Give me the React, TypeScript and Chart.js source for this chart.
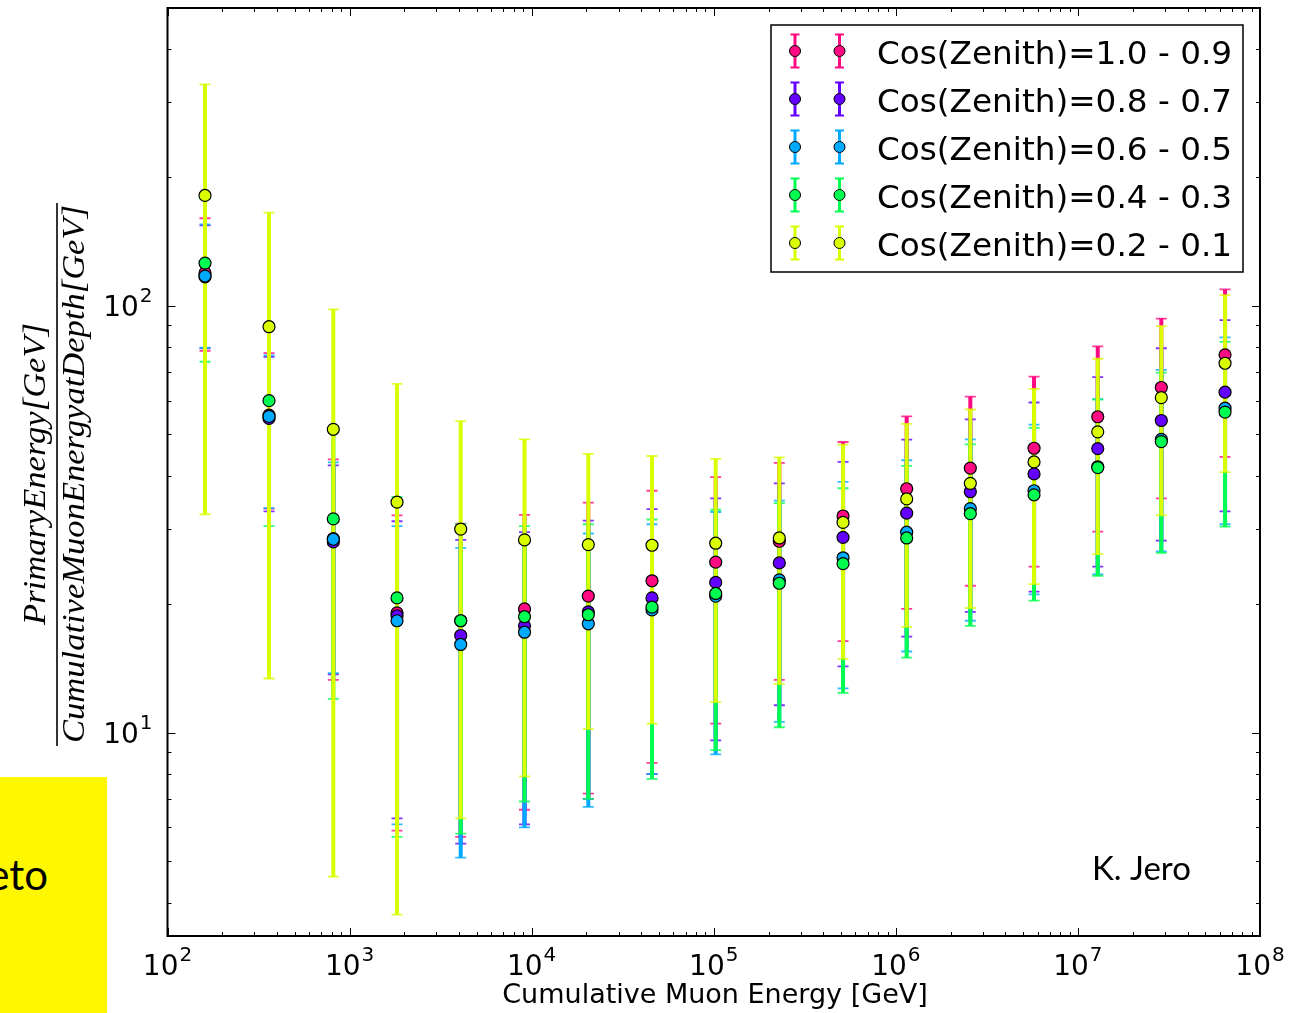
import React, { useEffect, useRef } from "react";
import { Chart, registerables } from "chart.js";

Chart.register(...registerables);

// Cumulative muon energy bin centres [GeV]
const energies = [160.7, 361, 814, 1822, 4077, 9135, 20470, 45810, 102500, 229100, 512900, 1147000, 2565000, 5741000, 12850000, 28710000, 64270000];

const seriesLabels = [
  "Cos(Zenith)=1.0 - 0.9",
  "Cos(Zenith)=0.8 - 0.7",
  "Cos(Zenith)=0.6 - 0.5",
  "Cos(Zenith)=0.4 - 0.3",
  "Cos(Zenith)=0.2 - 0.1",
];
const seriesColors = ["#FF0A82", "#6400FF", "#00AAFF", "#00FF50", "#D9FF00"];

const cz10to09 = [119.5, 55.5, 28.5, 19.1, 18.3, 19.5, 20.9, 22.7, 25.1, 28.1, 32.2, 37.3, 41.7, 46.4, 55.0, 64.4, 76.8];
const cz10to09Err = [41, 22, 15.2, 13.2, 12.6, 12.9, 13.7, 14.2, 14.6, 14.8, 15.8, 17.8, 19.6, 21.9, 25.4, 29.0, 32.5];

const cz08to07 = [117, 54.5, 28.0, 18.8, 16.9, 17.8, 19.2, 20.7, 22.5, 25.0, 28.7, 32.7, 36.7, 40.4, 46.3, 53.9, 62.8];
const cz08to07Err = [37.5, 21.5, 14.3, 12.5, 11.4, 11.7, 12.2, 12.7, 12.9, 13.4, 14.4, 15.9, 17.5, 19.0, 21.8, 25.7, 29.8];

const cz06to05 = [117.5, 55.1, 28.4, 18.3, 16.1, 17.2, 18.0, 19.4, 20.9, 22.8, 25.7, 29.5, 33.5, 36.9, 42.0, 48.7, 57.6];
const cz06to05Err = [37.7, 21.5, 14.6, 12.2, 11.0, 11.2, 11.3, 11.4, 12.0, 12.2, 13.0, 14.0, 15.2, 15.8, 18.5, 22.1, 26.8];

const cz04to03 = [126, 60.0, 31.7, 20.7, 18.3, 18.7, 18.9, 19.7, 21.2, 22.4, 24.9, 28.6, 32.6, 36.1, 41.8, 48.1, 56.4];
const cz04to03Err = [52, 29.5, 19.7, 15.0, 12.5, 11.8, 11.9, 11.9, 12.1, 12.1, 12.5, 13.6, 14.8, 15.7, 18.5, 21.7, 26.0];

const cz02to01 = [181.5, 89.4, 51.4, 34.7, 30.0, 28.3, 27.6, 27.5, 27.8, 28.6, 31.1, 35.3, 38.4, 43.1, 50.7, 61.0, 73.4];
const cz02to01Err = [149, 76, 46.8, 30.95, 23.7, 20.4, 17.4, 17.0, 16.0, 15.6, 16.2, 17.6, 18.8, 20.8, 24.5, 28.7, 32.6];

const seriesValues = [cz10to09, cz08to07, cz06to05, cz04to03, cz02to01];
const seriesErrors = [cz10to09Err, cz08to07Err, cz06to05Err, cz04to03Err, cz02to01Err];

const xTickExponents = [2, 3, 4, 5, 6, 7, 8];
const yTickExponents = [1, 2];
const xMin = 100;
const xMax = 1e8;
const yMin = 3.34;
const yMax = 499;

const xTitle = "Cumulative Muon Energy [GeV]";
const yNumerator = "PrimaryEnergy[GeV]";
const yDenominator = "CumulativeMuonEnergyatDepth[GeV]";
const creditText = "K. Jero";
const boxText = "eto";

const SANS = '"DejaVu Sans", sans-serif';

const decorPlugin = {
  id: "decor",
  beforeDatasetsDraw(chart: any) {
    const ctx = chart.ctx;
    const xs = chart.scales.x;
    const ys = chart.scales.y;
    const a = chart.chartArea;
    ctx.save();
    ctx.beginPath();
    ctx.rect(a.left, a.top, a.right - a.left, a.bottom - a.top);
    ctx.clip();
    seriesValues.forEach((vals, s) => {
      const errs = seriesErrors[s];
      const color = seriesColors[s];
      vals.forEach((v, i) => {
        const x = xs.getPixelForValue(energies[i]);
        const lo = v - errs[i];
        const yT = ys.getPixelForValue(v + errs[i]);
        const yB = lo > 0 ? ys.getPixelForValue(lo) : a.bottom + 10;
        ctx.strokeStyle = color;
        ctx.globalAlpha = 1;
        ctx.lineWidth = 4;
        ctx.beginPath();
        ctx.moveTo(x, yT);
        ctx.lineTo(x, yB);
        ctx.stroke();
        ctx.lineWidth = 1.8;
        ctx.globalAlpha = 0.8;
        ctx.beginPath();
        ctx.moveTo(x - 5.5, yT);
        ctx.lineTo(x + 5.5, yT);
        if (lo > 0) {
          ctx.moveTo(x - 5.5, yB);
          ctx.lineTo(x + 5.5, yB);
        }
        ctx.stroke();
      });
    });
    ctx.restore();
  },
  afterDraw(chart: any) {
    const ctx = chart.ctx;
    const xs = chart.scales.x;
    const ys = chart.scales.y;
    const a = chart.chartArea;
    ctx.save();

    // ticks (inward, all four sides)
    ctx.strokeStyle = "#000";
    ctx.lineWidth = 1;
    const tickX = (v: number, len: number) => {
      const x = Math.round(xs.getPixelForValue(v)) + 0.5;
      ctx.beginPath();
      ctx.moveTo(x, a.bottom);
      ctx.lineTo(x, a.bottom - len);
      ctx.moveTo(x, a.top);
      ctx.lineTo(x, a.top + len);
      ctx.stroke();
    };
    const tickY = (v: number, len: number) => {
      const y = Math.round(ys.getPixelForValue(v)) + 0.5;
      ctx.beginPath();
      ctx.moveTo(a.left, y);
      ctx.lineTo(a.left + len, y);
      ctx.moveTo(a.right, y);
      ctx.lineTo(a.right - len, y);
      ctx.stroke();
    };
    for (let e = 2; e <= 8; e++) {
      tickX(Math.pow(10, e), 8);
      if (e < 8) for (let m = 2; m <= 9; m++) tickX(m * Math.pow(10, e), 4);
    }
    for (let e = 0; e <= 3; e++) {
      const p = Math.pow(10, e);
      if (p >= yMin && p <= yMax) tickY(p, 8);
      for (let m = 2; m <= 9; m++) {
        const v = m * p;
        if (v >= yMin && v <= yMax) tickY(v, 4);
      }
    }

    // frame
    ctx.lineWidth = 2;
    ctx.strokeRect(a.left, a.top, a.right - a.left, a.bottom - a.top);

    // tick labels
    ctx.fillStyle = "#000";
    ctx.textBaseline = "alphabetic";
    const drawPow = (xCenterOrRight: number, baseY: number, exp: number, align: "center" | "right") => {
      ctx.font = `28px ${SANS}`;
      const wb = ctx.measureText("10").width;
      ctx.font = `20px ${SANS}`;
      const we = ctx.measureText(String(exp)).width;
      const total = wb + we + 1;
      const start = align === "center" ? xCenterOrRight - total / 2 : xCenterOrRight - total;
      ctx.textAlign = "left";
      ctx.font = `28px ${SANS}`;
      ctx.fillText("10", start, baseY);
      ctx.font = `20px ${SANS}`;
      ctx.fillText(String(exp), start + wb + 1, baseY - 14);
    };
    xTickExponents.forEach((e) => {
      drawPow(xs.getPixelForValue(Math.pow(10, e)), a.bottom + 39, e, "center");
    });
    yTickExponents.forEach((e) => {
      drawPow(a.left - 15, ys.getPixelForValue(Math.pow(10, e)) + 10, e, "right");
    });

    // x title
    ctx.font = `27px ${SANS}`;
    ctx.textAlign = "center";
    ctx.fillText(xTitle, 715, 1003);

    // y title (fraction)
    ctx.save();
    ctx.translate(57, 474);
    ctx.rotate(-Math.PI / 2);
    ctx.lineWidth = 1.6;
    ctx.beginPath();
    ctx.moveTo(-272, 0);
    ctx.lineTo(271, 0);
    ctx.stroke();
    ctx.font = 'italic 31px "Liberation Serif", serif';
    const wd = ctx.measureText(yDenominator).width;
    const sx = 538 / wd;
    ctx.scale(sx, 1);
    ctx.textAlign = "center";
    ctx.fillText(yNumerator, 0, -12);
    ctx.fillText(yDenominator, 0, 27);
    ctx.restore();

    // legend
    const lx = 771, ly = 25, lw = 472, lh = 247;
    ctx.fillStyle = "#fff";
    ctx.fillRect(lx, ly, lw, lh);
    ctx.strokeStyle = "#000";
    ctx.lineWidth = 1.5;
    ctx.strokeRect(lx, ly, lw, lh);
    seriesLabels.forEach((label, s) => {
      const rowY = 51 + 48 * s;
      [795, 839.5].forEach((sxp) => {
        ctx.strokeStyle = seriesColors[s];
        ctx.lineWidth = 3;
        ctx.beginPath();
        ctx.moveTo(sxp, rowY - 16.5);
        ctx.lineTo(sxp, rowY + 16.5);
        ctx.stroke();
        ctx.lineWidth = 2;
        ctx.beginPath();
        ctx.moveTo(sxp - 4.5, rowY - 16.5);
        ctx.lineTo(sxp + 4.5, rowY - 16.5);
        ctx.moveTo(sxp - 4.5, rowY + 16.5);
        ctx.lineTo(sxp + 4.5, rowY + 16.5);
        ctx.stroke();
        ctx.beginPath();
        ctx.arc(sxp, rowY, 5.5, 0, Math.PI * 2);
        ctx.fillStyle = seriesColors[s];
        ctx.fill();
        ctx.strokeStyle = "#000";
        ctx.lineWidth = 1;
        ctx.stroke();
      });
      ctx.fillStyle = "#000";
      ctx.font = `32.7px ${SANS}`;
      ctx.textAlign = "left";
      ctx.fillText(label, 877, rowY + 13);
    });

    // credit
    ctx.font = '33px Lato, "Open Sans", sans-serif';
    ctx.textAlign = "left";
    ctx.fillStyle = "#000";
    ctx.fillText(creditText, 1092, 880);

    ctx.restore();
  },
};

export default function App() {
  const canvasRef = useRef<HTMLCanvasElement | null>(null);

  useEffect(() => {
    if (!canvasRef.current) return;
    const datasets = seriesValues.map((vals, s) => ({
      label: seriesLabels[s],
      data: vals.map((v, i) => ({ x: energies[i], y: v })),
      showLine: false,
      pointRadius: 6,
      pointHoverRadius: 6,
      pointBackgroundColor: seriesColors[s],
      pointBorderColor: "#000",
      pointBorderWidth: 1.2,
      order: seriesValues.length - 1 - s,
    }));
    const chart = new Chart(canvasRef.current, {
      type: "scatter",
      data: { datasets },
      options: {
        responsive: false,
        animation: false,
        devicePixelRatio: 1,
        layout: { padding: { left: 167.5, top: 8, right: 40, bottom: 77 } },
        scales: {
          x: { type: "logarithmic", min: xMin, max: xMax, display: false },
          y: { type: "logarithmic", min: yMin, max: yMax, display: false },
        },
        plugins: {
          legend: { display: false },
          tooltip: { enabled: false },
        },
        events: [],
      },
      plugins: [decorPlugin],
    } as any);
    return () => chart.destroy();
  }, []);

  return (
    <div style={{ position: "absolute", left: 0, top: 0, width: 1300, height: 1013, background: "#fff" }}>
      <canvas ref={canvasRef} width={1300} height={1013} style={{ display: "block", width: 1300, height: 1013 }} />
      <div
        style={{
          position: "absolute",
          left: 0,
          top: 777,
          width: 107,
          height: 236,
          background: "#FFF700",
          overflow: "hidden",
        }}
      >
        <span
          style={{
            position: "absolute",
            right: 59,
            top: 72,
            fontFamily: 'Lato, "Open Sans", sans-serif',
            fontSize: 42,
            lineHeight: "50px",
            color: "#000",
            whiteSpace: "nowrap",
          }}
        >
          {boxText}
        </span>
      </div>
    </div>
  );
}
